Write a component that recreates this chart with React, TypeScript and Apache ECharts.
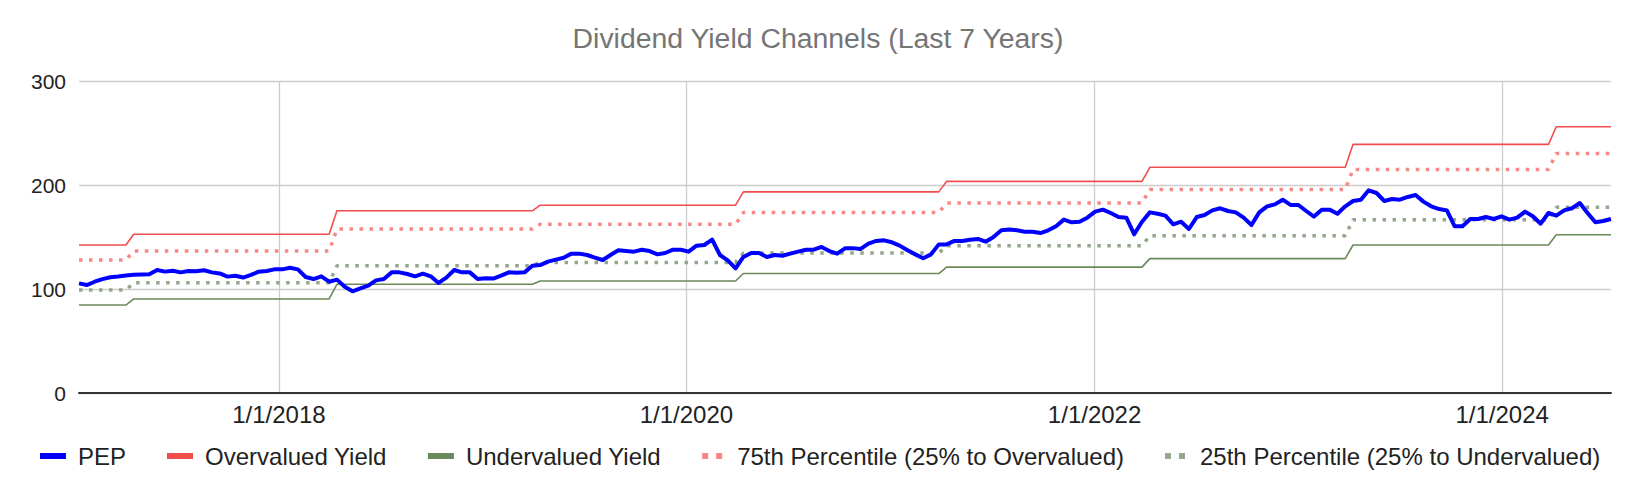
import { useEffect, useRef } from "react";
import * as echarts from "echarts";

// biweekly samples starting 2017-01-08
const startYear = 2017;
const startMonth = 0;
const startDay = 8;
const stepDays = 14;

const pepYield = [
  105.4, 103.8, 107, 109.5, 111.3, 112, 113, 113.7, 114, 114.2,
  118.3, 116.7, 117.6, 116, 117.3, 117, 118, 116, 115, 111.9,
  112.8, 111, 113.5, 116.7, 117.3, 118.9, 118.9, 120.5, 118.9, 111.5,
  109.6, 112.2, 107, 109, 102.2, 97.8, 100.6, 103.2, 108.3, 109.6,
  116, 116, 114.4, 112.2, 114.7, 112.2, 105.8, 110.9, 118.3, 116,
  116, 109.6, 110.3, 110, 112.8, 116, 115.7, 116, 122.4, 123,
  126.3, 128.2, 130.1, 134, 134, 132.7, 130.1, 127.9, 132.7, 137.2,
  136.5, 135.9, 137.8, 136.5, 133.3, 134.6, 137.8, 137.8, 135.9, 141.7,
  142.3, 147.4, 132.7, 127.6, 119.9, 130.8, 134.6, 134.6, 130.8, 132.7,
  132, 134, 135.9, 137.8, 137.8, 140.4, 136.5, 134, 139.1, 139.3,
  138.5, 143.6, 146.2, 146.8, 144.9, 141.7, 137.2, 133.3, 129.5, 133.3,
  142.9, 142.9, 146.2, 146.2, 147.4, 148.1, 145.5, 150, 156.4, 157.1,
  156.4, 155.1, 155.1, 153.8, 156.4, 160.3, 166.7, 164.1, 164.7, 168.6,
  174.4, 176.3, 173.1, 169.2, 168.6, 152.6, 164.7, 173.7, 172.4, 170.5,
  162.2, 164.7, 157.7, 169.2, 171.2, 175.6, 177.6, 175, 173.7, 168.6,
  161.5, 173.7, 179.5, 181.4, 185.9, 180.8, 180.8, 175, 169.6, 176.3,
  176.3, 172.4, 179.5, 184.6, 185.9, 194.9, 192.3, 184.6, 186.5, 185.9,
  188.5, 190.4, 184, 179.5, 176.9, 175.6, 160.3, 160.3, 167.3, 167.3,
  169.2, 167.3, 169.9, 166.7, 168.6, 174.4, 169.9, 162.8, 173.1, 170.5,
  175.6, 177.6, 182.7, 173.1, 164.1, 165.4, 167.3,
];

// sample index after which each channel level changes
const levelChangeAfter = [6, 32, 58, 84, 110, 136, 162, 188];

const overvalued = [142.3, 152.6, 175.2, 180.6, 193.4, 203.5, 217, 239.1, 256];
const pct75 = [127.9, 136.6, 157.6, 162.2, 173.6, 182.6, 195.6, 215, 230.4];
const pct25 = [99, 106, 122.3, 125.6, 134.5, 141.6, 151.3, 166.5, 178.5];
const undervalued = [84.6, 90.4, 104.5, 107.7, 114.9, 121, 129.2, 142.3, 152.2];

const tickYears = [2018, 2020, 2022, 2024];

const dates = pepYield.map((_, i) =>
  new Date(startYear, startMonth, startDay + stepDays * i).getTime()
);
const tickDates = tickYears.map((y) => new Date(y, 0, 1).getTime());

function channel(levels: number[]) {
  return dates.map((d, i) => {
    let lvl = 0;
    while (lvl < levelChangeAfter.length && i > levelChangeAfter[lvl]) lvl++;
    return [d, levels[lvl]];
  });
}

const DOTS = "path://M0,0h6v6h-6zM14,0h6v6h-6z";
const FONT = "'Liberation Sans', Arial, sans-serif";

export default function App() {
  const chartRef = useRef<HTMLDivElement>(null);

  useEffect(() => {
    document.body.style.margin = "0";
    if (!chartRef.current) return;
    const chart = echarts.init(chartRef.current, undefined, { renderer: "svg" });

    const option: echarts.EChartsOption = {
      animation: false,
      backgroundColor: "#fff",
      textStyle: { fontFamily: FONT },
      title: {
        text: "Dividend Yield Channels (Last 7 Years)",
        left: "center",
        top: 24,
        padding: 0,
        textStyle: { fontSize: 28.4, fontWeight: "normal", color: "#757575", fontFamily: FONT },
      },
      legend: {
        left: 40,
        top: 444,
        padding: 0,
        itemWidth: 26,
        itemHeight: 6,
        itemGap: 41,
        itemStyle: { borderWidth: 0 },
        textStyle: { fontSize: 24, color: "#222", padding: [0, 0, 0, 7], fontFamily: FONT },
        data: [
          { name: "PEP", icon: "rect" },
          { name: "Overvalued Yield", icon: "rect" },
          { name: "Undervalued Yield", icon: "rect" },
          { name: "75th Percentile (25% to Overvalued)", icon: DOTS },
          { name: "25th Percentile (25% to Undervalued)", icon: DOTS },
        ],
      },
      grid: { left: 79, right: 25, top: 81, bottom: 101 },
      xAxis: {
        type: "value",
        min: dates[0],
        max: dates[dates.length - 1],
        axisLine: { lineStyle: { color: "#333", width: 2 } },
        axisTick: { show: false, customValues: tickDates },
        axisLabel: {
          customValues: tickDates,
          fontSize: 24,
          color: "#222",
          margin: 9,
          fontFamily: FONT,
          formatter: (v: number) => {
            const d = new Date(v);
            return `${d.getMonth() + 1}/${d.getDate()}/${d.getFullYear()}`;
          },
        },
        splitLine: { show: true, lineStyle: { color: "#ccc", width: 1.3 } },
      },
      yAxis: {
        type: "value",
        min: 0,
        max: 300,
        interval: 100,
        axisLine: { show: false },
        axisTick: { show: false },
        axisLabel: { fontSize: 21, color: "#222", margin: 13, fontFamily: FONT },
        splitLine: { lineStyle: { color: "#ccc", width: 1.3 } },
      },
      series: [
        {
          name: "PEP",
          type: "line",
          data: dates.map((d, i) => [d, pepYield[i]]),
          symbol: "none",
          z: 5,
          itemStyle: { color: "#0000ff" },
          lineStyle: { color: "#0000ff", width: 4, join: "round" },
        },
        {
          name: "Overvalued Yield",
          type: "line",
          data: channel(overvalued),
          symbol: "none",
          itemStyle: { color: "#f24d4d" },
          lineStyle: { color: "#f24d4d", width: 1.6 },
        },
        {
          name: "Undervalued Yield",
          type: "line",
          data: channel(undervalued),
          symbol: "none",
          itemStyle: { color: "#6a8a5a" },
          lineStyle: { color: "#6a8a5a", width: 1.6 },
        },
        {
          name: "75th Percentile (25% to Overvalued)",
          type: "line",
          data: channel(pct75),
          symbol: "none",
          itemStyle: { color: "#f78888" },
          lineStyle: { color: "#f78888", width: 3.5, type: [3.5, 6.5], cap: "butt" },
        },
        {
          name: "25th Percentile (25% to Undervalued)",
          type: "line",
          data: channel(pct25),
          symbol: "none",
          itemStyle: { color: "#93a68b" },
          lineStyle: { color: "#93a68b", width: 3.5, type: [3.5, 6.5], cap: "butt" },
        },
      ],
    };

    chart.setOption(option);
    return () => chart.dispose();
  }, []);

  return <div ref={chartRef} style={{ width: "1636px", height: "494px" }} />;
}
